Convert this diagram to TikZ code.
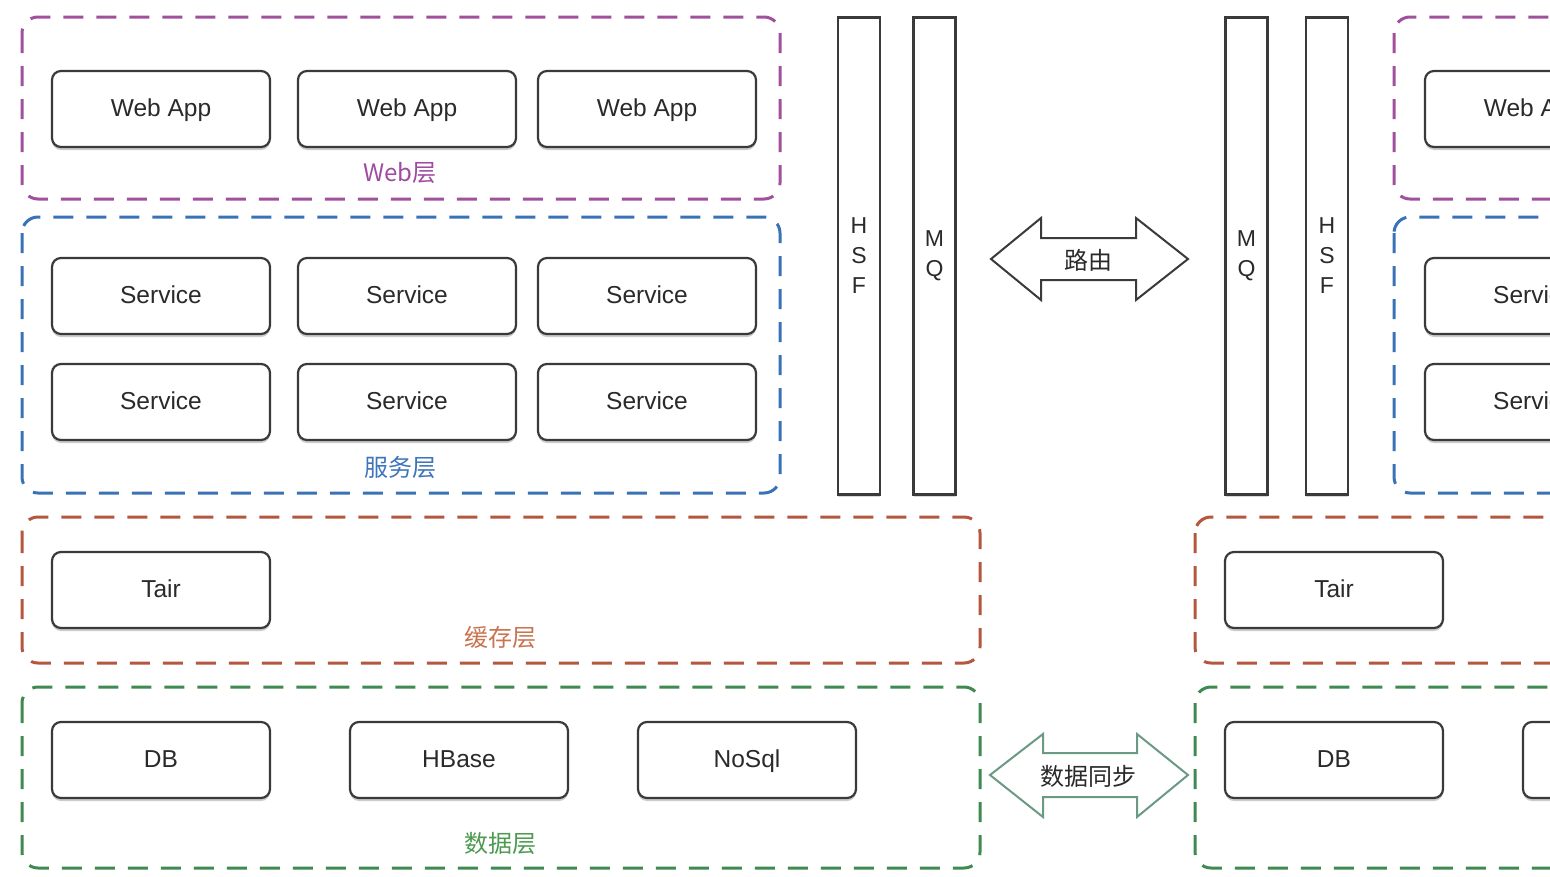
\documentclass[tikz,border=0pt]{standalone}
\usepackage{fontspec}
\setmainfont{Liberation Sans}
\newfontfamily\cjk{Noto Sans CJK SC}
\usetikzlibrary{shadows}
\definecolor{boxc}{HTML}{3A3A3A}
\definecolor{txtc}{HTML}{2A2A2A}
\definecolor{webc}{HTML}{A0509C}
\definecolor{svcc}{HTML}{3A72B8}
\definecolor{cachec}{HTML}{B5563F}
\definecolor{datac}{HTML}{3F8A50}
\definecolor{weblbl}{HTML}{A04AA0}
\definecolor{svclbl}{HTML}{3D74BA}
\definecolor{cachelbl}{HTML}{C87450}
\definecolor{datalbl}{HTML}{4E9A50}
\definecolor{syncc}{HTML}{6B9A84}
\begin{document}
\begin{tikzpicture}[x=1pt,y=-1pt,
  comp/.style={draw=boxc, line width=2.2pt, rounded corners=9pt, fill=white,
    minimum width=218pt, minimum height=76pt, inner sep=0pt,
    font=\fontsize{24.5}{29}\selectfont, text=txtc,
    text height=17pt, text depth=3pt,
    drop shadow={shadow xshift=0pt, shadow yshift=-3pt, opacity=0.4}},
  bar/.style={draw=boxc, line width=2.2pt, fill=white,
    minimum width=42pt, minimum height=477pt, inner sep=0pt, align=center,
    font=\fontsize{23}{30}\selectfont, text=txtc,
    drop shadow={shadow xshift=0pt, shadow yshift=-2pt, opacity=0.3}},
  layer/.style={line width=3pt, dash pattern=on 20pt off 13pt, rounded corners=16pt},
  lbl/.style={font=\fontsize{24}{28}\selectfont\cjk, inner sep=0pt},
  arrowbox/.style={line width=2pt, fill=white, line join=miter},
  arrowtxt/.style={font=\fontsize{24}{28}\selectfont\cjk, text=txtc, inner sep=0pt}
]
\useasboundingbox (0,0) rectangle (1550,876);
\clip (0,0) rectangle (1550,876);
\fill[white] (0,0) rectangle (1550,876);

% ---- left layers ----
\draw[layer, draw=webc]   (22,17)  rectangle (780,199);
\draw[layer, draw=svcc]   (22,217) rectangle (780,493);
\draw[layer, draw=cachec] (22,517) rectangle (980,663);
\draw[layer, draw=datac]  (22,687) rectangle (980,868);

% ---- right layers ----
\draw[layer, draw=webc]   (1394,17)  rectangle (1720,199);
\draw[layer, draw=svcc]   (1394,217) rectangle (1720,493);
\draw[layer, draw=cachec] (1195,517) rectangle (1720,663);
\draw[layer, draw=datac]  (1195,687) rectangle (1720,868);

% ---- left components ----
\node[comp] (w1) at (161,109) {Web App};
\node[comp] (w2) at (407,109) {Web App};
\node[comp] (w3) at (647,109) {Web App};
\node[lbl, text=weblbl] (weblabel) at (400,173) {Web层};

\node[comp] (s1) at (161,296) {Service};
\node[comp] (s2) at (407,296) {Service};
\node[comp] (s3) at (647,296) {Service};
\node[comp] (s4) at (161,402) {Service};
\node[comp] (s5) at (407,402) {Service};
\node[comp] (s6) at (647,402) {Service};
\node[lbl, text=svclbl] (svclabel) at (400,467) {服务层};

\node[comp] (tair) at (161,590) {Tair};
\node[lbl, text=cachelbl] (cachelabel) at (500,637) {缓存层};

\node[comp] (db) at (161,760) {DB};
\node[comp] (hbase) at (459,760) {HBase};
\node[comp] (nosql) at (747,760) {NoSql};
\node[lbl, text=datalbl] (datalabel) at (500,843) {数据层};

% ---- left bars ----
\node[bar] (hsf) at (859,256) {H\\S\\F};
\node[bar] (mq)  at (934.5,256) {M\\Q};

% ---- right bars ----
\node[bar] (mq2)  at (1246.5,256) {M\\Q};
\node[bar] (hsf2) at (1327,256) {H\\S\\F};

% ---- right components ----
\node[comp] (rw1) at (1534,109) {Web App};
\node[comp] (rs1) at (1534,296) {Service};
\node[comp] (rs2) at (1534,402) {Service};
\node[comp] (rtair) at (1334,590) {Tair};
\node[comp] (rdb) at (1334,760) {DB};
\node[comp] (rhb) at (1632,760) {};

% ---- routing arrow ----
\draw[arrowbox, draw=boxc] (991,259) -- (1041,218) -- (1041,238) -- (1136,238) -- (1136,218)
  -- (1188,259) -- (1136,300) -- (1136,280) -- (1041,280) -- (1041,300) -- cycle;
\node[arrowtxt] (route) at (1088,260) {路由};

% ---- data sync arrow ----
\draw[arrowbox, draw=syncc] (990,775) -- (1043,734) -- (1043,753) -- (1137,753) -- (1137,734)
  -- (1188,775) -- (1137,817) -- (1137,797) -- (1043,797) -- (1043,817) -- cycle;
\node[arrowtxt] (sync) at (1088,776) {数据同步};
\end{tikzpicture}
\end{document}
